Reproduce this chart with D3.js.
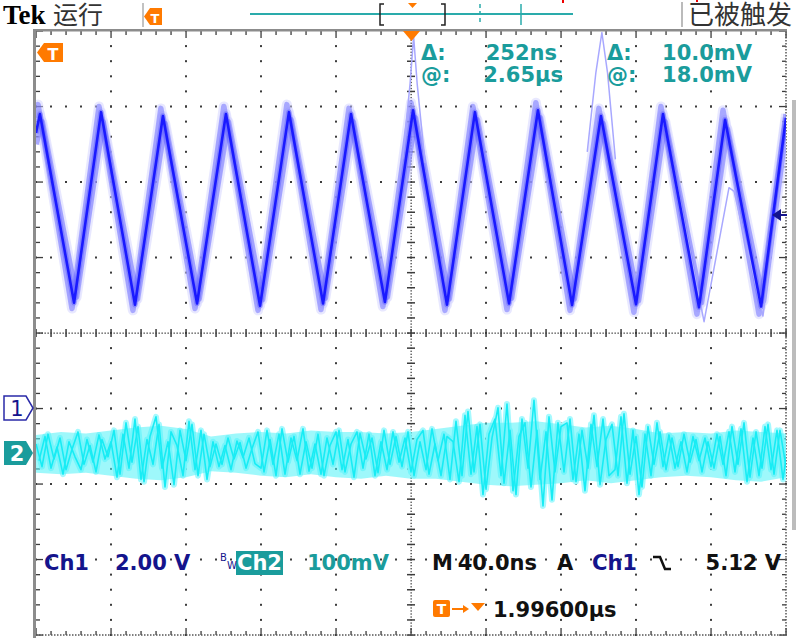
<!DOCTYPE html>
<html>
<head>
<meta charset="utf-8">
<script src="https://cdn.jsdelivr.net/npm/d3@7/dist/d3.min.js"></script>
<style>
  body { margin: 0; background: #fff; }
  svg { display: block; }
  text { font-family: "DejaVu Sans", sans-serif; }
</style>
</head>
<body>
<svg width="796" height="638"></svg>
<script>
// Ch1, 2.00 V/div. Vertices of the triangle-ish wave (time in ns over the 400 ns screen)
var ch1Time  = [0, 2.1, 20.3, 34.7, 52.8, 67.7, 85.9, 101.3, 119.5, 134.9, 153.1, 168.0, 186.1, 201.1, 219.2, 234.1, 252.3, 267.7, 285.9, 301.3, 320.0, 334.4, 353.6, 367.5, 386.7, 400];
var ch1Volts = [7.3, 7.8, 2.8, 7.85, 2.75, 7.75, 2.78, 7.8, 2.72, 7.85, 2.78, 7.8, 2.82, 7.9, 2.75, 7.85, 2.78, 7.9, 2.74, 7.75, 2.76, 7.8, 2.68, 7.65, 2.7, 7.7];
// other persistence passes
var ch1TimeB  = [0, 3.3, 21.6, 35.8, 54.1, 68.9, 87.0, 102.6, 120.8, 136.1, 154.3, 169.2, 187.4, 202.4, 220.4, 235.4, 253.6, 269.0, 287.1, 302.5, 321.3, 335.6, 354.9, 368.8, 388.0, 400];
var ch1VoltsB = [7.0, 7.6, 2.95, 7.6, 2.9, 7.55, 2.9, 7.6, 2.88, 7.65, 2.92, 7.6, 2.95, 7.7, 2.9, 7.65, 2.92, 7.7, 2.9, 7.55, 2.85, 7.6, 2.8, 7.4, 2.85, 7.4];
var ch1TimeC  = [0, 1.1, 19.2, 33.6, 51.7, 66.6, 84.8, 100.2, 118.4, 133.8, 152.0, 166.9, 185.0, 200.0, 218.1, 233.0, 251.2, 266.6, 284.8, 300.2, 318.9, 333.3, 352.5, 366.4, 385.6, 400];
var ch1VoltsC = [7.7, 8.05, 2.65, 8.0, 2.6, 7.95, 2.65, 8.0, 2.6, 8.05, 2.62, 7.95, 2.7, 8.1, 2.6, 8.0, 2.62, 8.1, 2.6, 7.95, 2.55, 8.0, 2.5, 7.9, 2.5, 7.8];
// single glitches
var spikeATime  = [195.5, 199.5, 201.4, 203.3, 207.5];
var spikeAVolts = [6.6, 8.6, 9.85, 8.6, 6.5];
var spikeBTime  = [294.0, 298.6, 301.8, 304.8, 309.0];
var spikeBVolts = [6.8, 8.9, 9.96, 8.9, 6.6];
var altTime  = [334.4, 356.3, 369.6, 372.3, 387.7, 400];
var altVolts = [7.75, 2.3, 5.85, 5.75, 2.45, 7.1];

// Ch2, 100 mV/div, noise (mV)
var ch2A = [12, -18, 25, -8, 20, -22, 5, 28, -15, 10, -25, 18, -5,
  30, -28, 40, -12, 35, -38, 22, 48, -20, 15, -42, 30, -10, 38, -30, 25, -18,
  12, -15, 20, -8, 14, -20, 6,
  28, -25, 18, -30, 32, -12, 22, -28, 15, -20,
  25, -30, 10, 28, -22, 18, -32, 26, -8, 20, -26, 30, -15, 22, -18,
  28, -30, 15, -22, 32, -10, 25, -35,
  42, -30, 55, -25, 38, -48, 20, 60, -40, 30, -55, 45, -20, 70, -35, 28, -62, 40,
  -25, 45, -38, 30, -20, 50, -42, 18, 38, -30, 52, -28, 22, -45, 35, -15, 28,
  -22, 20, -18, 25, -12, 18, -25, 15, -20, 22,
  -30, 35, -15, 40, -32, 28, -20, 38, -28, 30, -18];
var ch2B = [-10, 22, -20, 8, -28, 15, -5, -22, 18, -12, 24, -8, 15,
  -32, 25, -20, 45, -35, 18, -15, 38, -45, 28, 10, -30, 42, -22, 30, -35, 15,
  -18, 10, -22, 16, -6, 20, -14,
  -20, 30, -15, 25, -28, 20, -10, 32, -24, 12,
  -28, 20, -15, 30, -25, 12, 28, -20, 25, -30, 15, -22, 28, -12, 20,
  -25, 18, 30, -28, 12, -30, 22, 15,
  -38, 50, -28, 35, -55, 25, 45, -30, 65, -50, 22, 40, -45, 30, -70, 48, -25, 35,
  40, -35, 25, -50, 38, -18, 45, -30, -22, 48, -40, 30, -55, 25, -30, 40, -18,
  24, -20, 15, -25, 22, -10, 20, -18, 25, -15,
  28, -25, 32, -38, 20, -30, 35, -22, 30, -35, 20];
// dense core of the Ch2 persistence band (mV)
var ch2Upper = [24, 28, 26, 30, 34, 36, 32, 22, 26, 28, 26, 30, 28, 28, 26, 28, 32, 36, 40, 40, 42, 38, 34, 36, 32, 26, 28, 26, 30, 28, 26];
var ch2Lower = [-26, -28, -26, -30, -34, -36, -32, -24, -26, -30, -32, -28, -32, -34, -30, -34, -34, -38, -42, -44, -42, -40, -36, -40, -36, -32, -30, -32, -36, -38, -32];

var svg = d3.select("svg");

var x = d3.scaleLinear().domain([0, 400]).range([36, 786]);
var xDiv = d3.scaleLinear().domain([-5, 5]).range([36, 786]);
var yDiv = d3.scaleLinear().domain([-4, 4]).range([635, 31]);
var y1 = d3.scaleLinear().domain([-6, 10]).range([635, 31]);
var y2 = d3.scaleLinear().domain([-241, 559]).range([635, 31]);

var teal = "#1a9c9c", navy = "#14148c", orange = "#ff7a00";

// ---------- graticule ----------
var grid = svg.append("g").attr("fill", "#3c3c3c");
var minorX = d3.range(-25, 26).map(function(k) { return xDiv(k / 5); });
var minorY = d3.range(-20, 21).map(function(k) { return yDiv(k / 5); });

[-4, -3, -2, -1, 1, 2, 3, 4].forEach(function(k) {
    grid.append("g").selectAll("rect").data(minorY).enter().append("rect")
        .attr("x", xDiv(k) - 1).attr("y", function(d) { return d - 1; })
        .attr("width", 2).attr("height", 2);
});
[-3, -2, -1, 1, 2, 3].forEach(function(k) {
    grid.append("g").selectAll("rect").data(minorX).enter().append("rect")
        .attr("x", function(d) { return d - 1; }).attr("y", yDiv(k) - 1)
        .attr("width", 2).attr("height", 2);
});

// centre cross, fine dotted with ticks
var fineX = d3.range(-125, 126).map(function(k) { return xDiv(k / 25); });
var fineY = d3.range(-100, 101).map(function(k) { return yDiv(k / 25); });
grid.append("g").selectAll("rect").data(fineX).enter().append("rect")
    .attr("x", function(d) { return d - 0.5; }).attr("y", yDiv(0) - 0.5)
    .attr("width", 1.3).attr("height", 1.3);
grid.append("g").selectAll("rect").data(fineY).enter().append("rect")
    .attr("x", xDiv(0) - 0.5).attr("y", function(d) { return d - 0.5; })
    .attr("width", 1.3).attr("height", 1.3);
grid.append("g").selectAll("rect").data(minorX).enter().append("rect")
    .attr("x", function(d) { return d - 0.7; }).attr("y", yDiv(0) - 4)
    .attr("width", 1.5).attr("height", 8);
grid.append("g").selectAll("rect").data(minorY).enter().append("rect")
    .attr("x", xDiv(0) - 4).attr("y", function(d) { return d - 0.7; })
    .attr("width", 8).attr("height", 1.5);

// border ticks
grid.append("g").selectAll("rect").data(minorX).enter().append("rect")
    .attr("x", function(d) { return d - 0.6; }).attr("y", 31)
    .attr("width", 1.3).attr("height", function(d, i) { return i % 5 === 0 ? 7 : 4; });
grid.append("g").selectAll("rect").data(minorX).enter().append("rect")
    .attr("x", function(d) { return d - 0.6; })
    .attr("y", function(d, i) { return i % 5 === 0 ? 628 : 631; })
    .attr("width", 1.3).attr("height", function(d, i) { return i % 5 === 0 ? 7 : 4; });
grid.append("g").selectAll("rect").data(minorY).enter().append("rect")
    .attr("x", 36).attr("y", function(d) { return d - 0.6; })
    .attr("height", 1.3).attr("width", function(d, i) { return i % 5 === 0 ? 7 : 4; });
grid.append("g").selectAll("rect").data(minorY).enter().append("rect")
    .attr("x", function(d, i) { return i % 5 === 0 ? 779 : 782; })
    .attr("y", function(d) { return d - 0.6; })
    .attr("height", 1.3).attr("width", function(d, i) { return i % 5 === 0 ? 7 : 4; });

svg.append("line").attr("x1", 36).attr("x2", 787).attr("y1", 635).attr("y2", 635)
    .attr("stroke", "#555").attr("stroke-width", 1.5).attr("stroke-dasharray", "1.5,1.5");
svg.append("line").attr("x1", 786).attr("x2", 786).attr("y1", 31).attr("y2", 636)
    .attr("stroke", "#555").attr("stroke-width", 1.5).attr("stroke-dasharray", "1.5,1.5");
svg.append("rect").attr("x", 33).attr("y", 29).attr("width", 754).attr("height", 2.5).attr("fill", "#8c8c8c");
svg.append("rect").attr("x", 33).attr("y", 29).attr("width", 3).attr("height", 609).attr("fill", "#8c8c8c");
svg.append("rect").attr("x", 792).attr("y", 100).attr("width", 4).attr("height", 430).attr("fill", "#bcbcbc");

// ---------- traces ----------
svg.append("clipPath").attr("id", "screen").append("rect")
    .attr("x", 36).attr("y", 31).attr("width", 750).attr("height", 604);
var plot = svg.append("g").attr("clip-path", "url(#screen)");

function zip(ts, vs) { return ts.map(function(t, i) { return {t: t, v: vs[i]}; }); }
var line1 = d3.line().x(function(d) { return x(d.t); }).y(function(d) { return y1(d.v); });
var line2 = d3.line().x(function(d) { return x(d.t); }).y(function(d) { return y2(d.v); });
var band2 = d3.area().x(function(d) { return x(d.t); })
    .y0(function(d) { return y2(d.lo); }).y1(function(d) { return y2(d.hi); });

// Ch2
var envStep = d3.scaleLinear().domain([0, ch2Upper.length - 1]).range([0, 400]);
var core = ch2Upper.map(function(u, i) { return {t: envStep(i), hi: u, lo: ch2Lower[i]}; });
var ch2Step = d3.scaleLinear().domain([0, ch2A.length - 1]).range([0, 400]);
var ch2Sets = [ch2A, ch2B].map(function(arr, k) {
    return arr.map(function(v, i) { return {t: ch2Step(i) + k * 1.6, v: v}; });
});
ch2Sets.forEach(function(pts) {
    plot.append("path").datum(pts).attr("fill", "none")
        .attr("stroke", "#a6f9fe").attr("stroke-width", 6).attr("stroke-linejoin", "round")
        .attr("d", line2);
});
plot.append("path").datum(core).attr("fill", "#4ef2f8").attr("opacity", 0.55).attr("d", band2);
ch2Sets.forEach(function(pts) {
    plot.append("path").datum(pts).attr("fill", "none")
        .attr("stroke", "#18ecf4").attr("stroke-width", 1.6).attr("stroke-linejoin", "round")
        .attr("d", line2);
});

// Ch1 persistence
var ch1Sets = [zip(ch1TimeB, ch1VoltsB), zip(ch1TimeC, ch1VoltsC), zip(ch1Time, ch1Volts)];
ch1Sets.forEach(function(pts) {
    plot.append("path").datum(pts).attr("fill", "none").attr("stroke", "#d2d2ff")
        .attr("stroke-width", 10).attr("stroke-linejoin", "round").attr("opacity", 0.5).attr("d", line1);
});
ch1Sets.forEach(function(pts) {
    plot.append("path").datum(pts).attr("fill", "none").attr("stroke", "#5a5aff")
        .attr("stroke-width", 5.5).attr("stroke-linejoin", "round").attr("opacity", 0.45).attr("d", line1);
});
[zip(spikeATime, spikeAVolts), zip(spikeBTime, spikeBVolts), zip(altTime, altVolts)].forEach(function(pts) {
    plot.append("path").datum(pts).attr("fill", "none").attr("stroke", "#a8a8ff")
        .attr("stroke-width", 1.5).attr("stroke-linejoin", "round").attr("d", line1);
});
plot.append("path").datum(ch1Sets[2]).attr("fill", "none").attr("stroke", "#1a1aff")
    .attr("stroke-width", 2.6).attr("stroke-linejoin", "round").attr("d", line1);

// ---------- markers ----------
svg.append("path").attr("d", "M37,52.5 L44,43 H63 V62 H44 Z").attr("fill", orange);
svg.append("text").attr("x", 53).attr("y", 59.5).attr("text-anchor", "middle")
    .attr("fill", "#fff").attr("font-weight", "bold").attr("font-size", 16).text("T");
svg.append("path").attr("d", "M403,31 H420 L411.5,41 Z").attr("fill", orange);

svg.append("path").attr("d", "M4,396 H26 L33,408 L26,420 H4 Z")
    .attr("fill", "#fff").attr("stroke", "#2a2aa8").attr("stroke-width", 1.5);
svg.append("text").attr("x", 17).attr("y", 416).attr("text-anchor", "middle")
    .attr("fill", navy).attr("font-size", 21).text("1");
svg.append("path").attr("d", "M4,441 H26 L33,453 L26,465 H4 Z").attr("fill", teal);
svg.append("text").attr("x", 17).attr("y", 461).attr("text-anchor", "middle")
    .attr("fill", "#fff").attr("font-size", 21).attr("font-weight", "bold").text("2");

svg.append("path").attr("d", "M772,215 L781,209 V221 Z").attr("fill", navy);
svg.append("line").attr("x1", 779).attr("x2", 787).attr("y1", 215).attr("y2", 215)
    .attr("stroke", navy).attr("stroke-width", 2);

// ---------- top bar ----------
svg.append("text").attr("x", 3).attr("y", 24).style("font-family", "'Liberation Serif', serif")
    .attr("font-weight", "bold").attr("font-size", 27).attr("fill", "#000").text("Tek");
svg.append("text").attr("x", 53).attr("y", 24).style("font-family", "'Noto Sans CJK SC'")
    .attr("font-size", 25).attr("fill", "#333").text("运行");
svg.append("line").attr("x1", 143).attr("x2", 143).attr("y1", 3).attr("y2", 27).attr("stroke", "#999").attr("stroke-width", 1.2);
svg.append("path").attr("d", "M144,16.5 L150,8 H162 V25 H150 Z").attr("fill", orange);
svg.append("text").attr("x", 155).attr("y", 22.5).attr("text-anchor", "middle")
    .attr("fill", "#fff").attr("font-weight", "bold").attr("font-size", 13).text("T");
svg.append("line").attr("x1", 250).attr("x2", 573).attr("y1", 14).attr("y2", 14).attr("stroke", "#2aabab").attr("stroke-width", 2);
svg.append("path").attr("d", "M384,4 H380 V25 H384").attr("fill", "none").attr("stroke", "#222").attr("stroke-width", 1.5);
svg.append("path").attr("d", "M441,4 H445 V25 H441").attr("fill", "none").attr("stroke", "#222").attr("stroke-width", 1.5);
svg.append("path").attr("d", "M408,3 H417 L412.5,8 Z").attr("fill", orange);
svg.append("line").attr("x1", 480).attr("x2", 480).attr("y1", 4).attr("y2", 25)
    .attr("stroke", "#2aabab").attr("stroke-width", 1.5).attr("stroke-dasharray", "4,3");
svg.append("line").attr("x1", 521).attr("x2", 521).attr("y1", 4).attr("y2", 25).attr("stroke", "#2aabab").attr("stroke-width", 1.5);
svg.append("rect").attr("x", 562).attr("y", 0).attr("width", 2).attr("height", 3).attr("fill", "#e00");
svg.append("rect").attr("x", 696).attr("y", 0).attr("width", 2).attr("height", 2).attr("fill", "#e00");
svg.append("line").attr("x1", 682).attr("x2", 682).attr("y1", 2).attr("y2", 27).attr("stroke", "#bbb").attr("stroke-width", 2);
svg.append("text").attr("x", 688).attr("y", 24).style("font-family", "'Noto Sans CJK SC'")
    .attr("font-size", 26).attr("fill", "#333").text("已被触发");

// ---------- cursor readout ----------
var cur = svg.append("g").attr("fill", teal).attr("font-size", 21).attr("font-weight", "bold");
cur.append("text").attr("x", 421).attr("y", 60).text("Δ:");
cur.append("text").attr("x", 557).attr("y", 60).attr("text-anchor", "end").text("252ns");
cur.append("text").attr("x", 607).attr("y", 60).text("Δ:");
cur.append("text").attr("x", 752).attr("y", 60).attr("text-anchor", "end").text("10.0mV");
cur.append("text").attr("x", 421).attr("y", 82).text("@:");
cur.append("text").attr("x", 563).attr("y", 82).attr("text-anchor", "end").text("2.65µs");
cur.append("text").attr("x", 607).attr("y", 82).text("@:");
cur.append("text").attr("x", 752).attr("y", 82).attr("text-anchor", "end").text("18.0mV");

// ---------- bottom status ----------
svg.append("rect").attr("x", 236).attr("y", 551).attr("width", 47).attr("height", 24).attr("fill", teal);
var st = svg.append("g").attr("font-size", 21).attr("font-weight", "bold");
st.append("text").attr("x", 44).attr("y", 570).attr("fill", navy).text("Ch1");
st.append("text").attr("x", 115).attr("y", 570).attr("fill", navy).text("2.00 V");
svg.append("text").attr("x", 220).attr("y", 561).attr("font-size", 10).attr("fill", navy).text("B");
svg.append("text").attr("x", 227).attr("y", 569).attr("font-size", 10).attr("fill", navy).text("W");
st.append("text").attr("x", 237).attr("y", 570).attr("fill", "#fff").text("Ch2");
st.append("text").attr("x", 307).attr("y", 570).attr("fill", teal).text("100mV");
st.append("text").attr("x", 432).attr("y", 570).attr("fill", "#111").text("M");
st.append("text").attr("x", 537).attr("y", 570).attr("text-anchor", "end").attr("fill", "#111").text("40.0ns");
st.append("text").attr("x", 557).attr("y", 570).attr("fill", "#111").text("A");
st.append("text").attr("x", 592).attr("y", 570).attr("fill", navy).text("Ch1");
svg.append("path").attr("d", "M653,557 H660 L665,569 H671").attr("fill", "none")
    .attr("stroke", "#111").attr("stroke-width", 2.5);
st.append("text").attr("x", 781).attr("y", 570).attr("text-anchor", "end").attr("fill", "#111").text("5.12 V");

svg.append("rect").attr("x", 433).attr("y", 600).attr("width", 17).attr("height", 17).attr("rx", 2).attr("fill", orange);
svg.append("text").attr("x", 441.5).attr("y", 614).attr("text-anchor", "middle")
    .attr("fill", "#fff").attr("font-weight", "bold").attr("font-size", 14).text("T");
svg.append("line").attr("x1", 452).attr("x2", 464).attr("y1", 609).attr("y2", 609).attr("stroke", orange).attr("stroke-width", 2);
svg.append("path").attr("d", "M463,605 L469,609 L463,613 Z").attr("fill", orange);
svg.append("path").attr("d", "M471,603 H485 L478,611 Z").attr("fill", orange);
st.append("text").attr("x", 493).attr("y", 617).attr("fill", "#111").text("1.99600µs");
</script>
</body>
</html>
